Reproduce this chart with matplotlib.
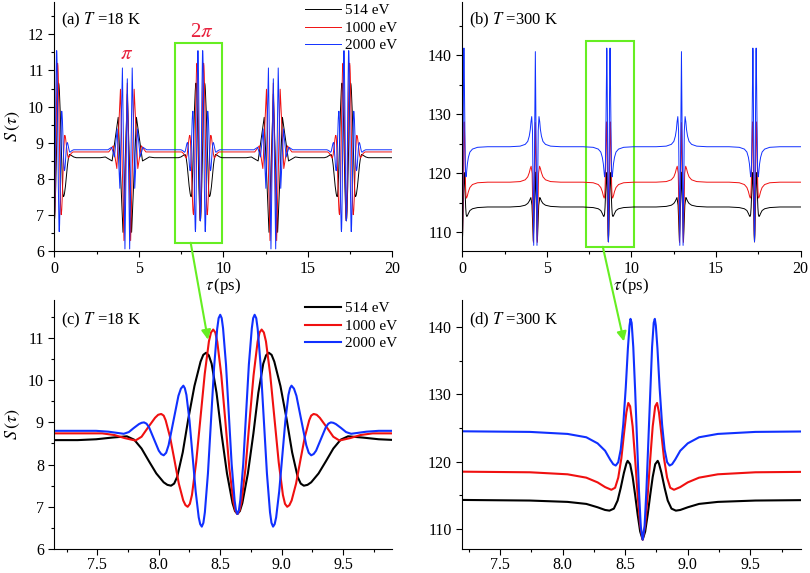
import numpy as np
import matplotlib
matplotlib.use("Agg")
from matplotlib import pyplot as plt
from matplotlib.patches import Rectangle, ConnectionPatch
from matplotlib.ticker import MultipleLocator, FormatStrFormatter

plt.rcParams['font.family'] = ['Liberation Serif', 'DejaVu Serif']
plt.rcParams['mathtext.fontset'] = 'stix'

# echo centres (ps) and which kind of echo sits there
centers = [0.0, 4.32, 8.64, 12.96, 17.28]
kinds = ['2pi', 'pi', '2pi', 'pi', '2pi']
energies = ['514 eV', '1000 eV', '2000 eV']
colors = ['black', '#f01010', '#1030ff']

# ---- T = 18 K, 2pi echo (time relative to echo centre), left half then right half ----
r2_blk18 = [-1.60, -1.30, -1.15, -1.02, -0.90, -0.84, -0.78, -0.72, -0.66, -0.60, -0.57, -0.54, -0.515, -0.49,
            -0.445, -0.40, -0.35, -0.30, -0.278, -0.255, -0.233, -0.21, -0.17, -0.13, -0.085, -0.04, -0.02, 0.0] + \
           [0.02, 0.04, 0.085, 0.13, 0.17, 0.21, 0.233, 0.255, 0.278, 0.30, 0.35, 0.40, 0.445, 0.49, 0.515,
            0.54, 0.57, 0.60, 0.66, 0.72, 0.78, 0.84, 0.90, 1.02, 1.15, 1.30, 1.60]
s2_blk18 = [8.58, 8.58, 8.60, 8.64, 8.67, 8.59, 8.38, 8.08, 7.79, 7.58, 7.52, 7.50, 7.55, 7.71,
            8.29, 9.08, 9.86, 10.44, 10.60, 10.65, 10.59, 10.39, 9.70, 8.74, 7.79, 7.09, 6.90, 6.83] + \
           [6.90, 7.09, 7.79, 8.74, 9.70, 10.39, 10.59, 10.65, 10.60, 10.44, 9.86, 9.08, 8.29, 7.71, 7.55,
            7.50, 7.52, 7.58, 7.79, 8.08, 8.38, 8.59, 8.67, 8.64, 8.60, 8.58, 8.58]
r2_red18 = [-1.60, -1.10, -1.00, -0.92, -0.83, -0.78, -0.725, -0.67, -0.645, -0.62, -0.60, -0.584, -0.548, -0.512,
            -0.477, -0.441, -0.423, -0.405, -0.387, -0.37, -0.336, -0.301, -0.266, -0.232, -0.215, -0.197, -0.18,
            -0.164, -0.131, -0.098, -0.066, -0.033, -0.016, 0.0] + \
           [0.016, 0.033, 0.066, 0.098, 0.131, 0.164, 0.18, 0.197, 0.215, 0.232, 0.266, 0.301, 0.336, 0.37,
            0.387, 0.405, 0.423, 0.441, 0.477, 0.512, 0.548, 0.584, 0.60, 0.62, 0.645, 0.67, 0.725, 0.78,
            0.83, 0.92, 1.00, 1.10, 1.60]
s2_red18 = [8.74, 8.74, 8.70, 8.63, 8.57, 8.66, 8.89, 9.11, 9.18, 9.20, 9.16, 9.05, 8.65, 8.10,
            7.55, 7.15, 7.04, 7.00, 7.07, 7.28, 8.05, 9.10, 10.15, 10.92, 11.13, 11.20, 11.13,
            10.91, 10.11, 9.02, 7.92, 7.12, 6.90, 6.83] + \
           [6.90, 7.12, 7.92, 9.02, 10.11, 10.91, 11.13, 11.20, 11.13, 10.92, 10.15, 9.10, 8.05, 7.28,
            7.07, 7.00, 7.04, 7.15, 7.55, 8.10, 8.65, 9.05, 9.16, 9.20, 9.18, 9.11, 8.89, 8.66,
            8.57, 8.63, 8.70, 8.74, 8.74]
r2_blu18 = [-1.60, -1.15, -1.05, -0.925, -0.884, -0.842, -0.801, -0.78, -0.76, -0.74, -0.72, -0.68, -0.64, -0.62,
            -0.60, -0.58, -0.56, -0.52, -0.48, -0.46, -0.44, -0.428, -0.415, -0.39, -0.365, -0.34, -0.315,
            -0.303, -0.29, -0.277, -0.265, -0.24, -0.215, -0.19, -0.165, -0.153, -0.14, -0.128, -0.117,
            -0.093, -0.07, -0.047, -0.023, -0.012, 0.0] + \
           [0.012, 0.023, 0.047, 0.07, 0.093, 0.117, 0.128, 0.14, 0.153, 0.165, 0.19, 0.215, 0.24, 0.265,
            0.277, 0.29, 0.303, 0.315, 0.34, 0.365, 0.39, 0.415, 0.428, 0.44, 0.46, 0.48, 0.52, 0.56,
            0.58, 0.60, 0.62, 0.64, 0.68, 0.72, 0.74, 0.76, 0.78, 0.801, 0.842, 0.884, 0.925, 1.05, 1.15, 1.60]
s2_blu18 = [8.80, 8.80, 8.78, 8.73, 8.77, 8.87, 8.96, 8.99, 9.00, 8.97, 8.89, 8.61, 8.33, 8.25,
            8.22, 8.28, 8.46, 9.05, 9.63, 9.80, 9.87, 9.81, 9.65, 9.04, 8.20, 7.37, 6.75,
            6.59, 6.53, 6.62, 6.87, 7.79, 9.04, 10.30, 11.21, 11.47, 11.55, 11.47, 11.23,
            10.37, 9.19, 8.01, 7.15, 6.92, 6.83] + \
           [6.92, 7.15, 8.01, 9.19, 10.37, 11.23, 11.47, 11.55, 11.47, 11.21, 10.30, 9.04, 7.79, 6.87,
            6.62, 6.53, 6.59, 6.75, 7.37, 8.20, 9.04, 9.65, 9.81, 9.87, 9.80, 9.63, 9.05, 8.46,
            8.28, 8.22, 8.25, 8.33, 8.61, 8.89, 8.97, 9.00, 8.99, 8.96, 8.87, 8.77, 8.73, 8.78, 8.80, 8.80]

# ---- T = 18 K, pi echo (extrema only, small in panel a) ----
r1_blk18 = [-1.60, -1.30, -0.90, -0.54, -0.255, 0.0, 0.255, 0.54, 0.90, 1.30, 1.60]
s1_blk18 = [8.58, 8.60, 8.49, 9.70, 6.51, 10.35, 6.51, 9.70, 8.49, 8.60, 8.58]
r1_red18 = [-1.60, -1.10, -0.83, -0.62, -0.405, -0.197, 0.0, 0.197, 0.405, 0.62, 0.83, 1.10, 1.60]
s1_red18 = [8.74, 8.74, 8.91, 8.28, 10.48, 6.28, 10.65, 6.28, 10.48, 8.28, 8.91, 8.74, 8.74]
r1_blu18 = [-1.60, -1.15, -0.925, -0.76, -0.60, -0.44, -0.29, -0.14, 0.0, 0.14, 0.29, 0.44, 0.60, 0.76, 0.925, 1.15, 1.60]
s1_blu18 = [8.80, 8.80, 8.87, 8.60, 9.38, 7.73, 11.07, 6.05, 10.77, 6.05, 11.07, 7.73, 9.38, 8.60, 8.87, 8.80, 8.80]

# ---- T = 300 K, 2pi echo ----
r2_blk300 = [-1.50, -0.90, -0.60, -0.45, -0.36, -0.30, -0.265, -0.23, -0.20, -0.175, -0.15, -0.13, -0.12, -0.10,
             -0.08, -0.06, -0.04, -0.02, 0.0, 0.02, 0.04, 0.06, 0.08, 0.10, 0.12, 0.13, 0.15, 0.175, 0.20,
             0.23, 0.265, 0.30, 0.36, 0.45, 0.60, 0.90, 1.50]
s2_blk300 = [114.3, 114.2, 114.0, 113.7, 113.2, 112.8, 112.7, 113.0, 114.2, 116.1, 118.3, 119.7, 120.1, 119.6,
             117.7, 115.0, 112.1, 109.6, 108.4, 109.6, 112.1, 115.0, 117.7, 119.6, 120.1, 119.7, 118.3, 116.1,
             114.2, 113.0, 112.7, 112.8, 113.2, 113.7, 114.0, 114.2, 114.3]
r2_red300 = [-1.50, -0.90, -0.60, -0.45, -0.36, -0.30, -0.25, -0.22, -0.195, -0.17, -0.15, -0.13, -0.115, -0.10,
             -0.08, -0.06, -0.04, -0.02, 0.0, 0.02, 0.04, 0.06, 0.08, 0.10, 0.115, 0.13, 0.15, 0.17, 0.195,
             0.22, 0.25, 0.30, 0.36, 0.45, 0.60, 0.90, 1.50]
s2_red300 = [118.5, 118.4, 118.1, 117.6, 116.9, 116.2, 115.8, 116.1, 117.6, 120.5, 124.0, 127.3, 128.7, 128.2,
             125.2, 120.3, 115.0, 110.6, 108.4, 110.6, 115.0, 120.3, 125.2, 128.2, 128.7, 127.3, 124.0, 120.5,
             117.6, 116.1, 115.8, 116.2, 116.9, 117.6, 118.1, 118.4, 118.5]
r2_blu300 = [-1.50, -0.90, -0.60, -0.45, -0.36, -0.30, -0.26, -0.235, -0.215, -0.195, -0.175, -0.155, -0.135,
             -0.118, -0.105, -0.097, -0.088, -0.075, -0.06, -0.045, -0.03, -0.015, 0.0, 0.015, 0.03, 0.045,
             0.06, 0.075, 0.088, 0.097, 0.105, 0.118, 0.135, 0.155, 0.175, 0.195, 0.215, 0.235, 0.26, 0.30,
             0.36, 0.45, 0.60, 0.90, 1.50]
s2_blu300 = [124.5, 124.4, 124.1, 123.6, 122.7, 121.6, 120.3, 119.6, 119.4, 119.9, 121.8, 125.5, 131.0,
             136.8, 140.2, 141.2, 140.6, 137.0, 130.5, 123.0, 115.8, 110.3, 108.4, 110.3, 115.8, 123.0,
             130.5, 137.0, 140.6, 141.2, 140.2, 136.8, 131.0, 125.5, 121.8, 119.9, 119.4, 119.6, 120.3, 121.6,
             122.7, 123.6, 124.1, 124.4, 124.5]

# ---- T = 300 K, pi echo ----
r1_blk300 = [-1.50, -0.90, -0.60, -0.45, -0.36, -0.30, -0.265, -0.20, -0.12, 0.0, 0.12, 0.20, 0.265, 0.30, 0.36, 0.45, 0.60, 0.90, 1.50]
s1_blk300 = [114.3, 114.4, 114.6, 114.9, 115.3, 115.7, 115.9, 114.6, 108.5, 120.2, 108.5, 114.6, 115.9, 115.7, 115.3, 114.9, 114.6, 114.4, 114.3]
r1_red300 = [-1.50, -0.90, -0.60, -0.45, -0.36, -0.30, -0.25, -0.19, -0.115, 0.0, 0.115, 0.19, 0.25, 0.30, 0.36, 0.45, 0.60, 0.90, 1.50]
s1_red300 = [118.5, 118.6, 118.9, 119.4, 120.1, 120.8, 121.2, 120.0, 108.3, 128.6, 108.3, 120.0, 121.2, 120.8, 120.1, 119.4, 118.9, 118.6, 118.5]
r1_blu300 = [-1.50, -0.90, -0.60, -0.45, -0.36, -0.30, -0.26, -0.215, -0.17, -0.097, 0.0, 0.097, 0.17, 0.215, 0.26, 0.30, 0.36, 0.45, 0.60, 0.90, 1.50]
s1_blu300 = [124.5, 124.6, 124.9, 125.4, 126.3, 127.4, 128.7, 129.6, 127.2, 107.8, 140.6, 107.8, 127.2, 129.6, 128.7, 127.4, 126.3, 125.4, 124.9, 124.6, 124.5]

prof18 = [{'2pi': (r2_blk18, s2_blk18), 'pi': (r1_blk18, s1_blk18)},
          {'2pi': (r2_red18, s2_red18), 'pi': (r1_red18, s1_red18)},
          {'2pi': (r2_blu18, s2_blu18), 'pi': (r1_blu18, s1_blu18)}]
prof300 = [{'2pi': (r2_blk300, s2_blk300), 'pi': (r1_blk300, s1_blk300)},
           {'2pi': (r2_red300, s2_red300), 'pi': (r1_red300, s1_red300)},
           {'2pi': (r2_blu300, s2_blu300), 'pi': (r1_blu300, s1_blu300)}]


def build(prof):
    # put the echo shapes at their centres along 0..20 ps
    ts, ss = [], []
    for c, k in zip(centers, kinds):
        r = np.array(prof[k][0])
        s = np.array(prof[k][1])
        m = (r + c >= 0) & (r + c <= 20)
        ts.append(r[m] + c)
        ss.append(s[m])
    t = np.concatenate(ts)
    s = np.concatenate(ss)
    t = np.append(t, 20.0)
    s = np.append(s, s[-1])
    return t, s


fig = plt.figure(figsize=(8.1, 5.73), dpi=100)
W, H = 810.0, 573.0


def make_ax(l, r, top, bot):
    return fig.add_axes([l / W, 1 - bot / H, (r - l) / W, (bot - top) / H])


axa = make_ax(54.3, 392.3, 2, 250.7)
axb = make_ax(462.3, 800.5, 2, 250.7)
axc = make_ax(54.3, 392.3, 300, 549)
axd = make_ax(462.3, 800.5, 300, 549)

for ax in (axa, axb, axc, axd):
    ax.spines['top'].set_visible(False)
    ax.spines['right'].set_visible(False)
    ax.tick_params(which='major', direction='out', length=4, width=0.8, labelsize=11.5)
    ax.tick_params(which='minor', direction='out', length=2.5, width=0.8)
for ax in (axc, axd):
    ax.tick_params(axis='x', which='major', pad=2)

series18 = [build(p) for p in prof18]
series300 = [build(p) for p in prof300]

for (t, s), col, lab in zip(series18, colors, energies):
    axa.plot(t, s, color=col, lw=0.7, label=lab)
    axc.plot(t, s, color=col, lw=1.5, label=lab, solid_joinstyle='round')
for (t, s), col in zip(series300, colors):
    axb.plot(t, s, color=col, lw=0.7)
    axd.plot(t, s, color=col, lw=1.5, solid_joinstyle='round')

axa.set_xlim(0, 20)
axa.set_ylim(6, 12.9)
axb.set_xlim(0, 20)
axb.set_ylim(106.9, 149.0)
axc.set_xlim(7.15, 9.9)
axc.set_ylim(6, 11.9)
axd.set_xlim(7.2, 9.9)
axd.set_ylim(107.0, 144.0)

for ax in (axa, axb):
    ax.xaxis.set_major_locator(MultipleLocator(5))
    ax.xaxis.set_minor_locator(MultipleLocator(2.5))
    ax.text(0.5, -0.142, r'$\tau\,$(ps)', transform=ax.transAxes, ha='center', va='center', fontsize=12)
for ax in (axc, axd):
    ax.xaxis.set_major_locator(MultipleLocator(0.5))
    ax.xaxis.set_minor_locator(MultipleLocator(0.25))
    ax.xaxis.set_major_formatter(FormatStrFormatter('%.1f'))
for ax in (axa, axc):
    ax.yaxis.set_major_locator(MultipleLocator(1))
    ax.yaxis.set_minor_locator(MultipleLocator(0.5))
    ax.set_ylabel(r'$S\,(\tau)$', fontsize=13, labelpad=4)
for ax in (axb, axd):
    ax.yaxis.set_major_locator(MultipleLocator(10))
    ax.yaxis.set_minor_locator(MultipleLocator(5))

axa.text(0.02, 0.965, r'(a) $T$ =18 K', transform=axa.transAxes, fontsize=12, va='top')
axb.text(0.02, 0.965, r'(b) $T$ =300 K', transform=axb.transAxes, fontsize=12, va='top')
axc.text(0.02, 0.955, r'(c) $T$ =18 K', transform=axc.transAxes, fontsize=12, va='top')
axd.text(0.02, 0.955, r'(d) $T$ =300 K', transform=axd.transAxes, fontsize=12, va='top')

axa.text(4.30, 11.43, r'$\pi$', color='#e8203c', fontsize=15, ha='center', va='center')
axa.text(8.74, 12.04, r'2$\pi$', color='#e8203c', fontsize=15, ha='center', va='center')

for ax in (axa, axc):
    ax.legend(loc='upper right', bbox_to_anchor=(1.04, 1.03), frameon=False, fontsize=11,
              handlelength=2.4, handletextpad=0.2, labelspacing=0.25, borderaxespad=0.2)

green = '#66ee22'
axa.add_patch(Rectangle((7.15, 6.22), 2.8, 5.53, fill=False, ec=green, lw=1.5, clip_on=False))
axb.add_patch(Rectangle((7.32, 107.56), 2.82, 34.84, fill=False, ec=green, lw=1.5, clip_on=False))

con1 = ConnectionPatch(xyA=(8.07, 6.22), coordsA=axa.transData, xyB=(8.40, 10.96), coordsB=axc.transData,
                       arrowstyle='-|>', color=green, lw=1.5, mutation_scale=14)
con2 = ConnectionPatch(xyA=(8.31, 107.56), coordsA=axb.transData, xyB=(8.49, 137.85), coordsB=axd.transData,
                       arrowstyle='-|>', color=green, lw=1.5, mutation_scale=14)
fig.add_artist(con1)
fig.add_artist(con2)

fig.savefig('out.png', dpi=100)
